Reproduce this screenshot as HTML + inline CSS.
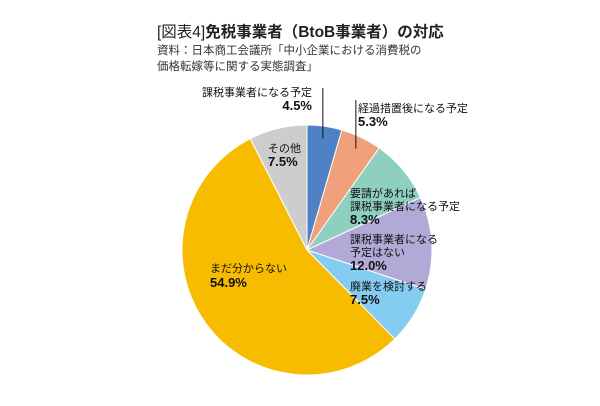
<!DOCTYPE html>
<html><head><meta charset="utf-8"><style>
body{margin:0;background:#fff;}
svg{display:block;font-family:"Liberation Sans","Noto Sans CJK JP",sans-serif;}
</style></head><body>
<svg width="600" height="406" viewBox="0 0 600 406">
<text x="157" y="37" font-size="15.5" fill="#222"><tspan>[図表4]</tspan><tspan font-weight="bold">免税事業者（BtoB事業者）の対応</tspan></text>
<text x="157" y="54" font-size="11.5" fill="#333">資料：日本商工会議所「中小企業における消費税の</text>
<text x="157" y="70" font-size="11.5" fill="#333">価格転嫁等に関する実態調査」</text>
<g id="slices"></g>
<g id="labels"></g>
</svg>
<script>
const categories=["課税事業者になる予定","経過措置後になる予定","要請があれば課税事業者になる予定","課税事業者になる予定はない","廃業を検討する","まだ分からない","その他"];
const values=[4.5,5.3,8.3,12.0,7.5,54.9,7.5];
const valueLabels=["4.5%","5.3%","8.3%","12.0%","7.5%","54.9%","7.5%"];
const colors=["#4f81c7","#f0a07a","#8ecfc0","#b3a9d6","#84ccf0","#f7bc00","#cdcdcd"];
const cx=307,cy=250,r=125;
const NS="http://www.w3.org/2000/svg";
const total=values.reduce((a,b)=>a+b,0);
function ang(v){return v/total*2*Math.PI-Math.PI/2;}
function pt(a,rr){return [cx+rr*Math.cos(a),cy+rr*Math.sin(a)];}
const g=document.getElementById('slices');
let acc=0;
const mids=[];
values.forEach((v,i)=>{
  const a0=ang(acc),a1=ang(acc+v);acc+=v;
  mids.push((a0+a1)/2);
  const p0=pt(a0,r),p1=pt(a1,r);
  const large=(a1-a0)>Math.PI?1:0;
  const p=document.createElementNS(NS,'path');
  p.setAttribute('d',`M${cx},${cy}L${p0[0]},${p0[1]}A${r},${r} 0 ${large} 1 ${p1[0]},${p1[1]}Z`);
  p.setAttribute('fill',colors[i]);
  p.setAttribute('stroke','#fff');p.setAttribute('stroke-width','1');
  
  
  g.appendChild(p);
});
const L=document.getElementById('labels');
function line(x1,y1,x2,y2,name){
  const l=document.createElementNS(NS,'line');
  l.setAttribute('x1',x1);l.setAttribute('y1',y1);l.setAttribute('x2',x2);l.setAttribute('y2',y2);
  l.setAttribute('stroke','#111');l.setAttribute('stroke-width','1');
  
  
  L.appendChild(l);
}
function txt(x,y,s,bold,anchor,name){
  const t=document.createElementNS(NS,'text');
  t.setAttribute('x',x);t.setAttribute('y',y);
  t.setAttribute('font-size',bold?13:11);
  if(bold)t.setAttribute('font-weight','bold');
  t.setAttribute('text-anchor',anchor||'start');
  t.setAttribute('fill','#111');
  t.textContent=s;
  
  
  L.appendChild(t);
}
const p0=pt(mids[0],r*0.9),p1=pt(mids[1],r*0.9);
line(p0[0],88,p0[0],p0[1],'leader-line-1');
line(p1[0],100,p1[0],p1[1],'leader-line-2');
txt(312,96,categories[0],false,'end','label-1');
txt(312,110,valueLabels[0],true,'end','value-1');
txt(358,112,categories[1],false,'start','label-2');
txt(358,126,valueLabels[1],true,'start','value-2');
txt(350,197,"要請があれば",false,'start','label-3a');
txt(350,210,"課税事業者になる予定",false,'start','label-3b');
txt(350,224,valueLabels[2],true,'start','value-3');
txt(350,243,"課税事業者になる",false,'start','label-4a');
txt(350,256,"予定はない",false,'start','label-4b');
txt(350,270,valueLabels[3],true,'start','value-4');
txt(350,290,categories[4],false,'start','label-5');
txt(350,304,valueLabels[4],true,'start','value-5');
txt(210,272,categories[5],false,'start','label-6');
txt(210,287,valueLabels[5],true,'start','value-6');
txt(268,152,categories[6],false,'start','label-7');
txt(268,166,valueLabels[6],true,'start','value-7');
</script>
</body></html>
